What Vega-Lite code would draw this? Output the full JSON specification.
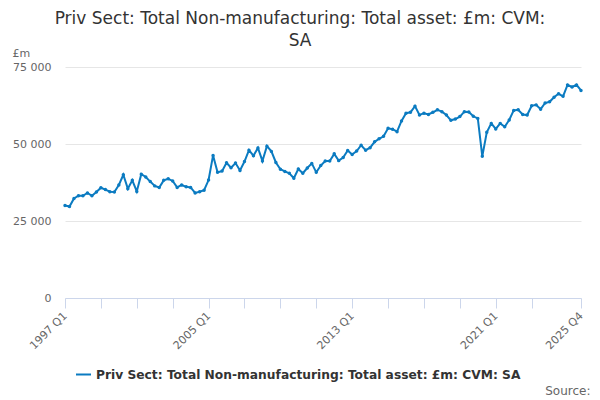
{
  "$schema": "https://vega.github.io/schema/vega-lite/v6.json",
  "autosize": {"type": "none"},
  "padding": {"left": 65, "top": 67, "right": 19, "bottom": 102},
  "width": 516,
  "height": 231,
  "background": "white",
  "title": {
    "text": ["Priv Sect: Total Non-manufacturing: Total asset: £m: CVM:", "SA"],
    "font": "DejaVu Sans",
    "fontSize": 17,
    "fontWeight": "normal",
    "color": "#333333",
    "anchor": "middle",
    "dx": -23,
    "offset": -3,
    "lineHeight": 22
  },
  "data": {
    "values": [
      {"q": "1997 Q1", "v": 30000}, {"q": "1997 Q2", "v": 29700}, {"q": "1997 Q3", "v": 32300}, {"q": "1997 Q4", "v": 33200},
      {"q": "1998 Q1", "v": 33200}, {"q": "1998 Q2", "v": 34100}, {"q": "1998 Q3", "v": 33200}, {"q": "1998 Q4", "v": 34400},
      {"q": "1999 Q1", "v": 35800}, {"q": "1999 Q2", "v": 35200}, {"q": "1999 Q3", "v": 34500}, {"q": "1999 Q4", "v": 34400},
      {"q": "2000 Q1", "v": 36700}, {"q": "2000 Q2", "v": 40000}, {"q": "2000 Q3", "v": 35500}, {"q": "2000 Q4", "v": 38200},
      {"q": "2001 Q1", "v": 34600}, {"q": "2001 Q2", "v": 40200}, {"q": "2001 Q3", "v": 39300}, {"q": "2001 Q4", "v": 37800},
      {"q": "2002 Q1", "v": 36400}, {"q": "2002 Q2", "v": 35900}, {"q": "2002 Q3", "v": 38200}, {"q": "2002 Q4", "v": 38700},
      {"q": "2003 Q1", "v": 38000}, {"q": "2003 Q2", "v": 35900}, {"q": "2003 Q3", "v": 36700}, {"q": "2003 Q4", "v": 36100},
      {"q": "2004 Q1", "v": 35900}, {"q": "2004 Q2", "v": 34100}, {"q": "2004 Q3", "v": 34500}, {"q": "2004 Q4", "v": 35000},
      {"q": "2005 Q1", "v": 38300}, {"q": "2005 Q2", "v": 46300}, {"q": "2005 Q3", "v": 40800}, {"q": "2005 Q4", "v": 41200},
      {"q": "2006 Q1", "v": 43900}, {"q": "2006 Q2", "v": 42300}, {"q": "2006 Q3", "v": 43800}, {"q": "2006 Q4", "v": 41400},
      {"q": "2007 Q1", "v": 44300}, {"q": "2007 Q2", "v": 48000}, {"q": "2007 Q3", "v": 46200}, {"q": "2007 Q4", "v": 48700},
      {"q": "2008 Q1", "v": 44500}, {"q": "2008 Q2", "v": 49300}, {"q": "2008 Q3", "v": 47600}, {"q": "2008 Q4", "v": 44000},
      {"q": "2009 Q1", "v": 41800}, {"q": "2009 Q2", "v": 41100}, {"q": "2009 Q3", "v": 40500}, {"q": "2009 Q4", "v": 38900},
      {"q": "2010 Q1", "v": 41900}, {"q": "2010 Q2", "v": 40500}, {"q": "2010 Q3", "v": 42200}, {"q": "2010 Q4", "v": 43700},
      {"q": "2011 Q1", "v": 40800}, {"q": "2011 Q2", "v": 43000}, {"q": "2011 Q3", "v": 44500}, {"q": "2011 Q4", "v": 44500},
      {"q": "2012 Q1", "v": 46800}, {"q": "2012 Q2", "v": 44600}, {"q": "2012 Q3", "v": 45600}, {"q": "2012 Q4", "v": 47900},
      {"q": "2013 Q1", "v": 46600}, {"q": "2013 Q2", "v": 47700}, {"q": "2013 Q3", "v": 49600}, {"q": "2013 Q4", "v": 48000},
      {"q": "2014 Q1", "v": 48800}, {"q": "2014 Q2", "v": 50700}, {"q": "2014 Q3", "v": 51700}, {"q": "2014 Q4", "v": 52500},
      {"q": "2015 Q1", "v": 55100}, {"q": "2015 Q2", "v": 54800}, {"q": "2015 Q3", "v": 54000}, {"q": "2015 Q4", "v": 57500},
      {"q": "2016 Q1", "v": 60000}, {"q": "2016 Q2", "v": 60300}, {"q": "2016 Q3", "v": 62300}, {"q": "2016 Q4", "v": 59400},
      {"q": "2017 Q1", "v": 60000}, {"q": "2017 Q2", "v": 59600}, {"q": "2017 Q3", "v": 60300}, {"q": "2017 Q4", "v": 61100},
      {"q": "2018 Q1", "v": 60500}, {"q": "2018 Q2", "v": 59400}, {"q": "2018 Q3", "v": 57700}, {"q": "2018 Q4", "v": 58100},
      {"q": "2019 Q1", "v": 58900}, {"q": "2019 Q2", "v": 60500}, {"q": "2019 Q3", "v": 60400}, {"q": "2019 Q4", "v": 59000},
      {"q": "2020 Q1", "v": 58300}, {"q": "2020 Q2", "v": 46000}, {"q": "2020 Q3", "v": 53800}, {"q": "2020 Q4", "v": 56700},
      {"q": "2021 Q1", "v": 54900}, {"q": "2021 Q2", "v": 56700}, {"q": "2021 Q3", "v": 55600}, {"q": "2021 Q4", "v": 57800},
      {"q": "2022 Q1", "v": 60900}, {"q": "2022 Q2", "v": 61100}, {"q": "2022 Q3", "v": 59600}, {"q": "2022 Q4", "v": 59400},
      {"q": "2023 Q1", "v": 62400}, {"q": "2023 Q2", "v": 62700}, {"q": "2023 Q3", "v": 61300}, {"q": "2023 Q4", "v": 63300},
      {"q": "2024 Q1", "v": 63700}, {"q": "2024 Q2", "v": 65200}, {"q": "2024 Q3", "v": 66300}, {"q": "2024 Q4", "v": 65500},
      {"q": "2025 Q1", "v": 69200}, {"q": "2025 Q2", "v": 68500}, {"q": "2025 Q3", "v": 69200}, {"q": "2025 Q4", "v": 67400}
    ]
  },
  "mark": {
    "type": "line",
    "strokeWidth": 2,
    "point": {"filled": true, "size": 12}
  },
  "encoding": {
    "x": {
      "field": "q",
      "type": "ordinal",
      "sort": null,
      "scale": {"type": "point", "padding": 0},
      "axis": {
        "values": ["1997 Q1", "1999 Q1", "2001 Q1", "2003 Q1", "2005 Q1", "2007 Q1", "2009 Q1", "2011 Q1", "2013 Q1", "2015 Q1", "2017 Q1", "2019 Q1", "2021 Q1", "2023 Q1", "2025 Q4"],
        "labelExpr": "indexof(['1997 Q1', '2005 Q1', '2013 Q1', '2021 Q1', '2025 Q4'], datum.label) >= 0 ? datum.label : ''",
        "labelAngle": -45,
        "labelAlign": "right",
        "labelBaseline": "middle",
        "labelPadding": 6,
        "labelFont": "DejaVu Sans",
        "labelFontSize": 11,
        "labelColor": "#666666",
        "labelOverlap": false,
        "domainColor": "#ccd6eb",
        "tickColor": "#ccd6eb",
        "tickSize": 10,
        "grid": false,
        "title": "Source:",
        "titleFont": "DejaVu Sans",
        "titleFontSize": 12,
        "titleFontWeight": "normal",
        "titleColor": "#666666",
        "titleAlign": "right",
        "titleAnchor": null,
        "titleX": 525,
        "titleY": 96,
        "titleBaseline": "alphabetic"
      }
    },
    "y": {
      "field": "v",
      "type": "quantitative",
      "scale": {"domain": [0, 75000], "nice": false},
      "axis": {
        "values": [0, 25000, 50000, 75000],
        "labelExpr": "replace(format(datum.value, ','), ',', ' ')",
        "labelFont": "DejaVu Sans",
        "labelFontSize": 11,
        "labelColor": "#666666",
        "labelPadding": 14,
        "domain": false,
        "ticks": false,
        "gridColor": "#e6e6e6",
        "title": "£m",
        "titleAngle": 0,
        "titleFont": "DejaVu Sans",
        "titleFontSize": 11,
        "titleFontWeight": "normal",
        "titleColor": "#666666",
        "titleAlign": "left",
        "titleAnchor": null,
        "titleX": -53,
        "titleY": -11,
        "titleBaseline": "alphabetic"
      }
    },
    "color": {
      "datum": "Priv Sect: Total Non-manufacturing: Total asset: £m: CVM: SA",
      "type": "nominal",
      "scale": {"range": ["#0b7bc1"]},
      "legend": {
        "title": null,
        "orient": "none",
        "legendX": 10,
        "legendY": 299,
        "symbolType": "stroke",
        "symbolStrokeWidth": 2,
        "symbolSize": 225,
        "labelFont": "DejaVu Sans",
        "labelFontSize": 12.25,
        "labelFontWeight": "bold",
        "labelColor": "#333333",
        "labelLimit": 600
      }
    }
  },
  "config": {
    "view": {"stroke": null}
  }
}
